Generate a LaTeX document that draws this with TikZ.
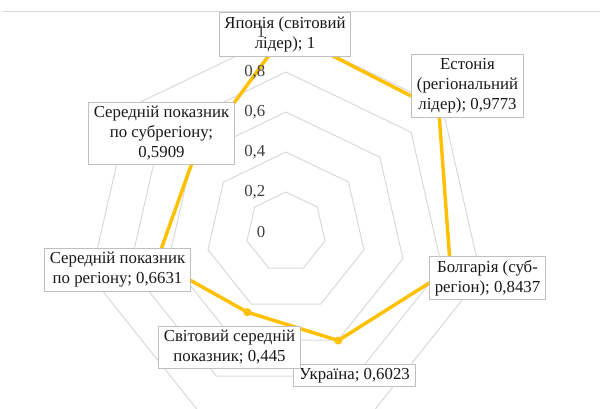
\documentclass[tikz,border=0pt]{standalone}
\usepackage{fontspec}
\setmainfont{Liberation Serif}
\usepackage{tikz}
\definecolor{gold}{HTML}{FFC000}
\definecolor{gridgr}{HTML}{D9D9D9}
\definecolor{boxgr}{HTML}{BFBFBF}
\definecolor{txt}{HTML}{404040}

\begin{document}
\begin{tikzpicture}[x=0.75pt,y=0.75pt,
  lbl/.style={draw=boxgr,line width=0.75pt,fill=white,align=center,text=black!90,
    inner xsep=4pt,inner ysep=3pt,font=\fontsize{12.6}{15}\selectfont}]
  \useasboundingbox (-286,-177) rectangle (314,232);
  \clip (-286,-177) rectangle (314,232);
  \def\rr{200}
  % grid
  \draw[gridgr,line width=0.75pt] (-283,220) -- (314,220);
  \foreach \g in {40,80,...,200}
    \draw[gridgr,line width=0.75pt] (90:\g) \foreach \k in {1,...,6} { -- ({90-\k*360/7}:\g) } -- cycle;
  % series
  \foreach \v [count=\k from 0] in {1,0.9773,0.8437,0.6023,0.445,0.6631,0.5909}
    \coordinate (p\k) at ({90-\k*360/7}:{\v*\rr});
  \draw[gold,line width=2.6pt,line join=round] (p0) -- (p1) -- (p2) -- (p3) -- (p4) -- (p5) -- (p6) -- cycle;
  \foreach \k in {0,...,6} \fill[gold] (p\k) circle (3pt);
  % data labels
  \node[lbl] (jap) at (-1,197.5) {Японія (світовий\\лідер); 1};
  \node[lbl] (est) at (181.5,146) {Естонія\\(регіональний\\лідер); 0,9773};
  \node[lbl] (bul) at (201.5,-46) {Болгарія (суб-\\регіон); 0,8437};
  \node[lbl] (ukr) at (68.5,-143.5) {Україна; 0,6023};
  \node[lbl] (wld) at (-56.5,-115.5) {Світовий середній\\показник; 0,445};
  \node[lbl] (reg) at (-168.5,-38) {Середній показник\\по регіону; 0,6631};
  \node[lbl] (sub) at (-124.5,98.5) {Середній показник\\по субрегіону;\\0,5909};
  % axis values
  \foreach \t [count=\i from 0] in {0,{0,2},{0,4},{0,6},{0,8},1}
    \node[anchor=east,text=txt,font=\fontsize{12.6}{15}\selectfont] (ax\i) at (-16,{\i*40}) {\t};
\end{tikzpicture}
\end{document}
